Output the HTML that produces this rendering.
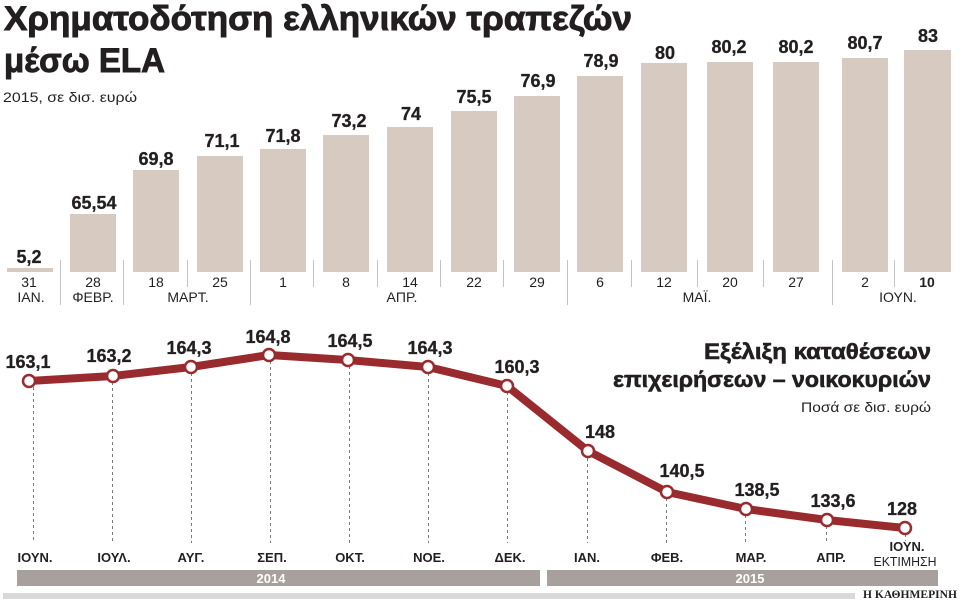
<!DOCTYPE html>
<html><head><meta charset="utf-8">
<style>
html,body{margin:0;padding:0;background:#fff;}
svg{display:block;}
text{font-family:"Liberation Sans","DejaVu Sans",sans-serif;fill:#231f20;}
.b{font-weight:bold;}
.t{stroke:#231f20;stroke-width:0.9px;}
.v{font-weight:bold;font-size:18px;text-anchor:middle;stroke:#231f20;stroke-width:0.3px;}
.d{font-size:14px;text-anchor:middle;}
.m{font-weight:bold;font-size:13px;text-anchor:middle;}
</style></head>
<body>
<svg width="960" height="600" viewBox="0 0 960 600" xmlns="http://www.w3.org/2000/svg">
<!-- Titles -->
<text x="4" y="30" class="b t" font-size="34" textLength="628" lengthAdjust="spacingAndGlyphs">Χρηματοδότηση ελληνικών τραπεζών</text>
<text x="4" y="72" class="b t" font-size="34" textLength="161" lengthAdjust="spacingAndGlyphs">μέσω ELA</text>
<text x="3" y="102" font-size="14" textLength="134" lengthAdjust="spacingAndGlyphs">2015, σε δισ. ευρώ</text>

<!-- Bars -->
<g fill="#d7cbc1">
<rect x="7" y="268" width="46" height="4"/>
<rect x="70" y="214" width="46" height="58"/>
<rect x="133" y="170" width="46" height="102"/>
<rect x="197" y="156" width="46" height="116"/>
<rect x="260" y="149" width="46" height="123"/>
<rect x="323" y="135" width="46" height="137"/>
<rect x="387" y="127" width="46" height="145"/>
<rect x="451" y="111" width="46" height="161"/>
<rect x="514" y="96" width="46" height="176"/>
<rect x="577" y="76" width="46" height="196"/>
<rect x="641" y="63" width="46" height="209"/>
<rect x="707" y="62" width="46" height="210"/>
<rect x="773" y="62" width="46" height="210"/>
<rect x="842" y="58" width="46" height="214"/>
<rect x="904" y="50" width="47" height="222"/>
</g>
<!-- Bar values -->
<text class="v" x="29" y="263">5,2</text>
<text class="v" x="94" y="209">65,54</text>
<text class="v" x="156" y="165">69,8</text>
<text class="v" x="222" y="147">71,1</text>
<text class="v" x="283" y="142">71,8</text>
<text class="v" x="349" y="127">73,2</text>
<text class="v" x="411" y="120">74</text>
<text class="v" x="474" y="103">75,5</text>
<text class="v" x="538" y="87">76,9</text>
<text class="v" x="601" y="67">78,9</text>
<text class="v" x="665" y="59">80</text>
<text class="v" x="729" y="53">80,2</text>
<text class="v" x="796" y="53">80,2</text>
<text class="v" x="865" y="49">80,7</text>
<text class="v" x="928" y="42">83</text>

<!-- Dividers -->
<g stroke="#c4c4c4" stroke-width="1">
<line x1="60.5" y1="260" x2="60.5" y2="305"/>
<line x1="123.5" y1="260" x2="123.5" y2="305"/>
<line x1="250.5" y1="260" x2="250.5" y2="305"/>
<line x1="567.5" y1="260" x2="567.5" y2="305"/>
<line x1="832.5" y1="260" x2="832.5" y2="305"/>
<line x1="187.5" y1="260" x2="187.5" y2="287"/>
<line x1="313.5" y1="260" x2="313.5" y2="287"/>
<line x1="377.5" y1="260" x2="377.5" y2="287"/>
<line x1="440.5" y1="260" x2="440.5" y2="287"/>
<line x1="503.5" y1="260" x2="503.5" y2="287"/>
<line x1="631.5" y1="260" x2="631.5" y2="287"/>
<line x1="697.5" y1="260" x2="697.5" y2="287"/>
<line x1="763.5" y1="260" x2="763.5" y2="287"/>
<line x1="894.5" y1="260" x2="894.5" y2="287"/>
</g>
<!-- Bar x labels -->
<text class="d" x="29" y="287">31</text>
<text class="d" x="93" y="287">28</text>
<text class="d" x="156" y="287">18</text>
<text class="d" x="220" y="287">25</text>
<text class="d" x="283" y="287">1</text>
<text class="d" x="346" y="287">8</text>
<text class="d" x="410" y="287">14</text>
<text class="d" x="474" y="287">22</text>
<text class="d" x="537" y="287">29</text>
<text class="d" x="600" y="287">6</text>
<text class="d" x="664" y="287">12</text>
<text class="d" x="730" y="287">20</text>
<text class="d" x="796" y="287">27</text>
<text class="d" x="865" y="287">2</text>
<text class="d b" x="927" y="287">10</text>
<text class="d" x="31" y="302">ΙΑΝ.</text>
<text class="d" x="93" y="302">ΦΕΒΡ.</text>
<text class="d" x="188" y="302">ΜΑΡΤ.</text>
<text class="d" x="402" y="302">ΑΠΡ.</text>
<text class="d" x="697" y="302">ΜΑΪ.</text>
<text class="d" x="898" y="302">ΙΟΥΝ.</text>

<!-- Line chart title -->
<text x="931" y="359" class="b t" font-size="22" text-anchor="end" textLength="227" lengthAdjust="spacingAndGlyphs" style="stroke-width:0.6px">Εξέλιξη καταθέσεων</text>
<text x="931" y="387" class="b t" font-size="22" text-anchor="end" textLength="318" lengthAdjust="spacingAndGlyphs" style="stroke-width:0.6px">επιχειρήσεων – νοικοκυριών</text>
<text x="931" y="412" font-size="14" text-anchor="end" textLength="130" lengthAdjust="spacingAndGlyphs">Ποσά σε δισ. ευρώ</text>

<!-- Dashed guides -->
<g stroke="#7a7a7a" stroke-width="1" stroke-dasharray="3,3">
<line x1="33.5" y1="387" x2="33.5" y2="543"/>
<line x1="112.5" y1="382" x2="112.5" y2="543"/>
<line x1="191.5" y1="373" x2="191.5" y2="543"/>
<line x1="270.5" y1="361" x2="270.5" y2="543"/>
<line x1="349.5" y1="366" x2="349.5" y2="543"/>
<line x1="428.5" y1="373" x2="428.5" y2="543"/>
<line x1="507.5" y1="392" x2="507.5" y2="543"/>
<line x1="587.5" y1="458" x2="587.5" y2="543"/>
<line x1="666.5" y1="498" x2="666.5" y2="543"/>
<line x1="745.5" y1="515" x2="745.5" y2="543"/>
<line x1="826.5" y1="526" x2="826.5" y2="543"/>
<line x1="905.5" y1="534" x2="905.5" y2="541"/>
</g>

<!-- Line -->
<polyline fill="none" stroke="#992b2f" stroke-width="8" stroke-linejoin="round" stroke-linecap="round"
 points="29,381 113,376 191,367 269,355 348,360 428,367 507,386 588,451 667,492 746,509 827,520 905,528"/>
<g fill="#fff" stroke="#992b2f" stroke-width="2.5">
<circle cx="29" cy="381" r="6"/>
<circle cx="113" cy="376" r="6"/>
<circle cx="191" cy="367" r="6"/>
<circle cx="269" cy="355" r="6"/>
<circle cx="348" cy="360" r="6"/>
<circle cx="428" cy="367" r="6"/>
<circle cx="507" cy="386" r="6"/>
<circle cx="588" cy="451" r="6"/>
<circle cx="667" cy="492" r="6"/>
<circle cx="746" cy="509" r="6"/>
<circle cx="827" cy="520" r="6"/>
<circle cx="905" cy="528" r="6"/>
</g>
<!-- Line values -->
<text class="v" x="28" y="368">163,1</text>
<text class="v" x="109" y="362">163,2</text>
<text class="v" x="189" y="354">164,3</text>
<text class="v" x="268" y="343">164,8</text>
<text class="v" x="350" y="347">164,5</text>
<text class="v" x="430" y="354">164,3</text>
<text class="v" x="517" y="373">160,3</text>
<text class="v" x="600" y="438">148</text>
<text class="v" x="682" y="477">140,5</text>
<text class="v" x="757" y="496">138,5</text>
<text class="v" x="833" y="507">133,6</text>
<text class="v" x="902" y="515">128</text>

<!-- Month labels -->
<text class="m" x="35" y="562">ΙΟΥΝ.</text>
<text class="m" x="114" y="562">ΙΟΥΛ.</text>
<text class="m" x="191" y="562">ΑΥΓ.</text>
<text class="m" x="272" y="562">ΣΕΠ.</text>
<text class="m" x="350" y="562">ΟΚΤ.</text>
<text class="m" x="429" y="562">ΝΟΕ.</text>
<text class="m" x="510" y="562">ΔΕΚ.</text>
<text class="m" x="587" y="562">ΙΑΝ.</text>
<text class="m" x="667" y="562">ΦΕΒ.</text>
<text class="m" x="751" y="562">ΜΑΡ.</text>
<text class="m" x="831" y="562">ΑΠΡ.</text>
<text class="m" x="907" y="551">ΙΟΥΝ.</text>
<text x="905" y="566" font-size="13" text-anchor="middle" textLength="63" lengthAdjust="spacingAndGlyphs">ΕΚΤΙΜΗΣΗ</text>

<!-- Year bars -->
<rect x="17" y="570" width="523" height="16" fill="#a7a09c"/>
<rect x="547" y="570" width="391" height="16" fill="#a7a09c"/>
<text x="271" y="583" class="b" font-size="13" text-anchor="middle" style="fill:#fff">2014</text>
<text x="750" y="583" class="b" font-size="13" text-anchor="middle" style="fill:#fff">2015</text>

<!-- Footer -->
<rect x="3" y="593" width="852" height="6" fill="#d9d9d9"/>
<text x="863" y="598" font-weight="bold" font-size="12" textLength="94" lengthAdjust="spacingAndGlyphs" style="font-family:'Liberation Serif',serif">Η ΚΑΘΗΜΕΡΙΝΗ</text>
</svg>
</body></html>
